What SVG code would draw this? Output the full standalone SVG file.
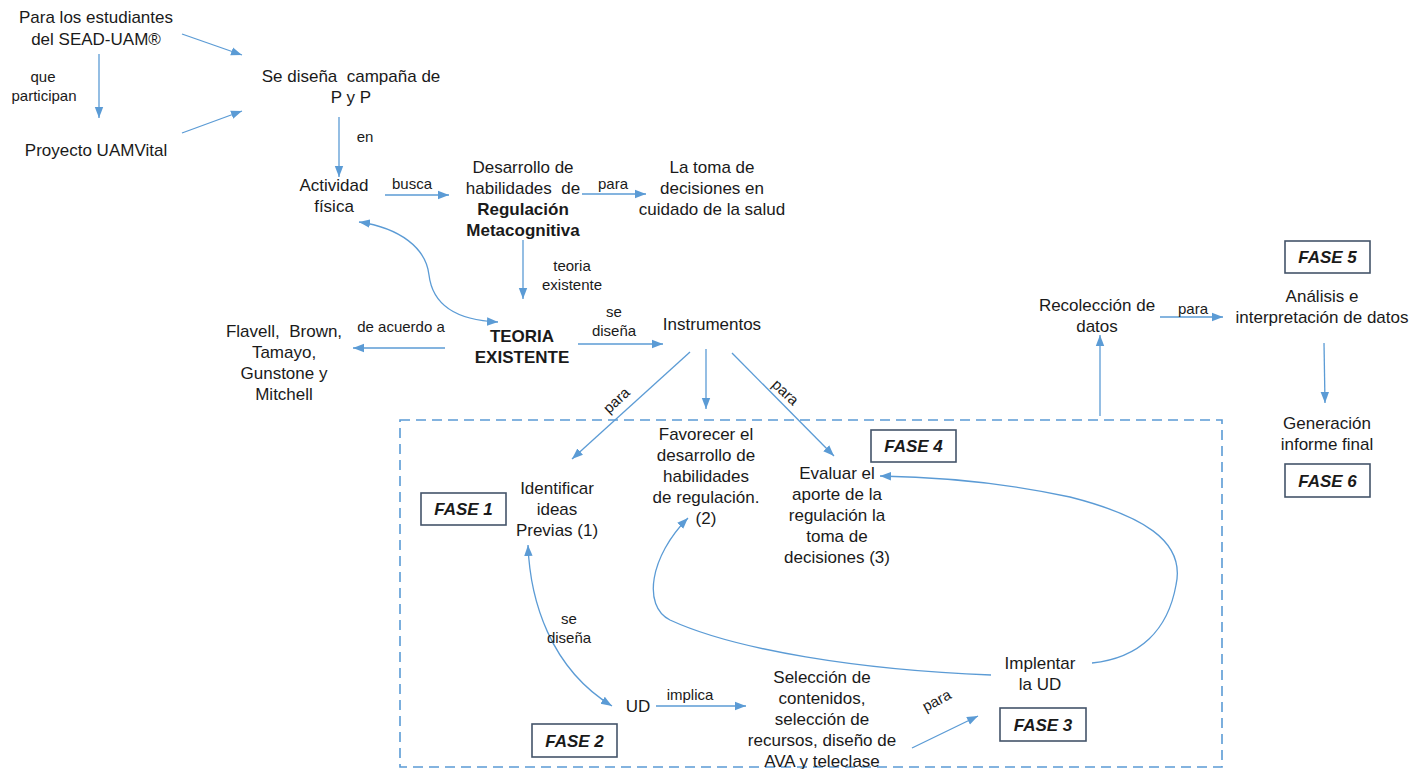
<svg xmlns="http://www.w3.org/2000/svg" width="1427" height="769" viewBox="0 0 1427 769">
<style>
text{font-family:"Liberation Sans",Arial,sans-serif;fill:#1a1a1a}
.t{font-size:17px;text-anchor:middle}
.b{font-weight:bold}
.l{font-size:15px;text-anchor:middle}
.c{fill:none;stroke:#5b9bd5;stroke-width:1.3}
.fb{fill:#fff;stroke:#44546a;stroke-width:1.6}
.ft{font-size:17px;font-weight:bold;font-style:italic;text-anchor:middle}
</style>
<defs>
<marker id="ah" markerUnits="userSpaceOnUse" markerWidth="12" markerHeight="10" refX="11" refY="5" orient="auto-start-reverse">
<path d="M0,0.8 L11,5 L0,9.2 z" fill="#5b9bd5"/>
</marker>
</defs>
<rect x="0" y="0" width="1427" height="769" fill="#fff"/>
<rect id="fase-frame" x="400" y="420" width="822" height="347" fill="none" stroke="#5b9bd5" stroke-width="1.6" stroke-dasharray="10,6"/>
<g id="connectors">
<line class="c" x1="182" y1="34" x2="242" y2="55" marker-end="url(#ah)"/>
<line class="c" x1="99" y1="54" x2="99" y2="118" marker-end="url(#ah)"/>
<line class="c" x1="182" y1="133" x2="242" y2="111" marker-end="url(#ah)"/>
<line class="c" x1="339" y1="117" x2="339" y2="177" marker-end="url(#ah)"/>
<line class="c" x1="385" y1="195" x2="449" y2="195" marker-end="url(#ah)"/>
<line class="c" x1="582" y1="194" x2="646" y2="194" marker-end="url(#ah)"/>
<line class="c" x1="523" y1="240" x2="523" y2="299" marker-end="url(#ah)"/>
<path class="c" d="M359,222 C400,228 426,248 429,275 C432,300 450,320 498,322" marker-start="url(#ah)" marker-end="url(#ah)"/>
<line class="c" x1="445" y1="348" x2="353" y2="348" marker-end="url(#ah)"/>
<line class="c" x1="578" y1="344" x2="663" y2="344" marker-end="url(#ah)"/>
<line class="c" x1="690" y1="352" x2="572" y2="459" marker-end="url(#ah)"/>
<line class="c" x1="706" y1="349" x2="706" y2="409" marker-end="url(#ah)"/>
<line class="c" x1="732" y1="353" x2="834" y2="456" marker-end="url(#ah)"/>
<line class="c" x1="1100" y1="416" x2="1100" y2="335" marker-end="url(#ah)"/>
<line class="c" x1="1160" y1="317" x2="1223" y2="317" marker-end="url(#ah)"/>
<line class="c" x1="1324" y1="343" x2="1325" y2="403" marker-end="url(#ah)"/>
<path class="c" d="M528,545 C530,600 550,668 612,706" marker-start="url(#ah)" marker-end="url(#ah)"/>
<line class="c" x1="656" y1="706" x2="746" y2="706" marker-end="url(#ah)"/>
<line class="c" x1="912" y1="748" x2="978" y2="716" marker-end="url(#ah)"/>
<path class="c" d="M991,675 C860,670 735,650 670,620 C642,606 650,556 688,518" marker-end="url(#ah)"/>
<path class="c" d="M1092,663 C1140,658 1168,630 1176,585 C1186,540 1140,515 1070,497 C1010,484 940,477 880,476" marker-end="url(#ah)"/>
</g>
<g id="n-estudiantes"><text class="t" x="96" y="23">Para los estudiantes</text><text class="t" x="96" y="45">del SEAD-UAM®</text></g>
<g id="l-que"><text class="l" x="43" y="82">que</text><text class="l" x="44" y="101">participan</text></g>
<g id="n-proyecto"><text class="t" x="96" y="156">Proyecto UAMVital</text></g>
<g id="n-campana"><text class="t" x="351" y="82" xml:space="preserve">Se diseña  campaña de</text><text class="t" x="351" y="103">P y P</text></g>
<g id="l-en"><text class="l" x="365" y="142">en</text></g>
<g id="n-actividad"><text class="t" x="334" y="191">Actividad</text><text class="t" x="334" y="212">física</text></g>
<g id="l-busca"><text class="l" x="412" y="189">busca</text></g>
<g id="n-desarrollo"><text class="t" x="523" y="173">Desarrollo de</text><text class="t" x="523" y="194" xml:space="preserve">habilidades  de</text><text class="t b" x="523" y="215">Regulación</text><text class="t b" x="523" y="236">Metacognitiva</text></g>
<g id="l-para1"><text class="l" x="613" y="189">para</text></g>
<g id="n-toma"><text class="t" x="712" y="173">La toma de</text><text class="t" x="712" y="194">decisiones en</text><text class="t" x="712" y="215">cuidado de la salud</text></g>
<g id="l-teoria"><text class="l" x="572" y="271">teoria</text><text class="l" x="572" y="290">existente</text></g>
<g id="n-teoria"><text class="t b" x="522" y="342">TEORIA</text><text class="t b" x="522" y="363">EXISTENTE</text></g>
<g id="l-acuerdo"><text class="l" x="401" y="332">de acuerdo a</text></g>
<g id="n-autores"><text class="t" x="284" y="337" xml:space="preserve">Flavell,  Brown,</text><text class="t" x="284" y="358">Tamayo,</text><text class="t" x="284" y="379">Gunstone y</text><text class="t" x="284" y="400">Mitchell</text></g>
<g id="l-sedisena1"><text class="l" x="614" y="317">se</text><text class="l" x="614" y="336">diseña</text></g>
<g id="n-instrumentos"><text class="t" x="712" y="330">Instrumentos</text></g>
<g id="l-para2"><text class="l" transform="translate(620,404) rotate(-43)" x="0" y="0">para</text></g>
<g id="l-para3"><text class="l" transform="translate(782,396) rotate(43)" x="0" y="0">para</text></g>
<g id="n-favorecer"><text class="t" x="706" y="440">Favorecer el</text><text class="t" x="706" y="461">desarrollo de</text><text class="t" x="706" y="482">habilidades</text><text class="t" x="706" y="503">de regulación.</text><text class="t" x="706" y="524">(2)</text></g>
<g id="n-identificar"><text class="t" x="557" y="494">Identificar</text><text class="t" x="557" y="515">ideas</text><text class="t" x="557" y="536">Previas (1)</text></g>
<g id="n-evaluar"><text class="t" x="837" y="479">Evaluar el</text><text class="t" x="837" y="500">aporte de la</text><text class="t" x="837" y="521">regulación la</text><text class="t" x="837" y="542">toma de</text><text class="t" x="837" y="563">decisiones (3)</text></g>
<g id="fase1"><rect class="fb" x="421" y="493" width="85" height="32"/><text class="ft" x="463.5" y="515">FASE 1</text></g>
<g id="fase2"><rect class="fb" x="532" y="724" width="85" height="33"/><text class="ft" x="574.5" y="747">FASE 2</text></g>
<g id="fase3"><rect class="fb" x="1000" y="708" width="86" height="33"/><text class="ft" x="1043" y="731">FASE 3</text></g>
<g id="fase4"><rect class="fb" x="871" y="430" width="85" height="32"/><text class="ft" x="913.5" y="452">FASE 4</text></g>
<g id="fase5"><rect class="fb" x="1285" y="241" width="85" height="32"/><text class="ft" x="1327.5" y="263">FASE 5</text></g>
<g id="fase6"><rect class="fb" x="1285" y="464" width="85" height="33"/><text class="ft" x="1327.5" y="487">FASE 6</text></g>
<g id="l-sedisena2"><text class="l" x="569" y="624">se</text><text class="l" x="569" y="643">diseña</text></g>
<g id="n-ud"><text class="t" x="638" y="712">UD</text></g>
<g id="l-implica"><text class="l" x="690" y="700">implica</text></g>
<g id="n-seleccion"><text class="t" x="822" y="683">Selección de</text><text class="t" x="822" y="704">contenidos,</text><text class="t" x="822" y="725">selección de</text><text class="t" x="822" y="746">recursos, diseño de</text><text class="t" x="822" y="767">AVA y teleclase</text></g>
<g id="l-para4"><text class="l" transform="translate(939,705) rotate(-28)" x="0" y="0">para</text></g>
<g id="n-implentar"><text class="t" x="1040" y="669">Implentar</text><text class="t" x="1040" y="690">la UD</text></g>
<g id="n-recoleccion"><text class="t" x="1097" y="311">Recolección de</text><text class="t" x="1097" y="332">datos</text></g>
<g id="l-para5"><text class="l" x="1193" y="314">para</text></g>
<g id="n-analisis"><text class="t" x="1322" y="302">Análisis e</text><text class="t" x="1322" y="323">interpretación de datos</text></g>
<g id="n-generacion"><text class="t" x="1327" y="429">Generación</text><text class="t" x="1327" y="450">informe final</text></g>
</svg>
